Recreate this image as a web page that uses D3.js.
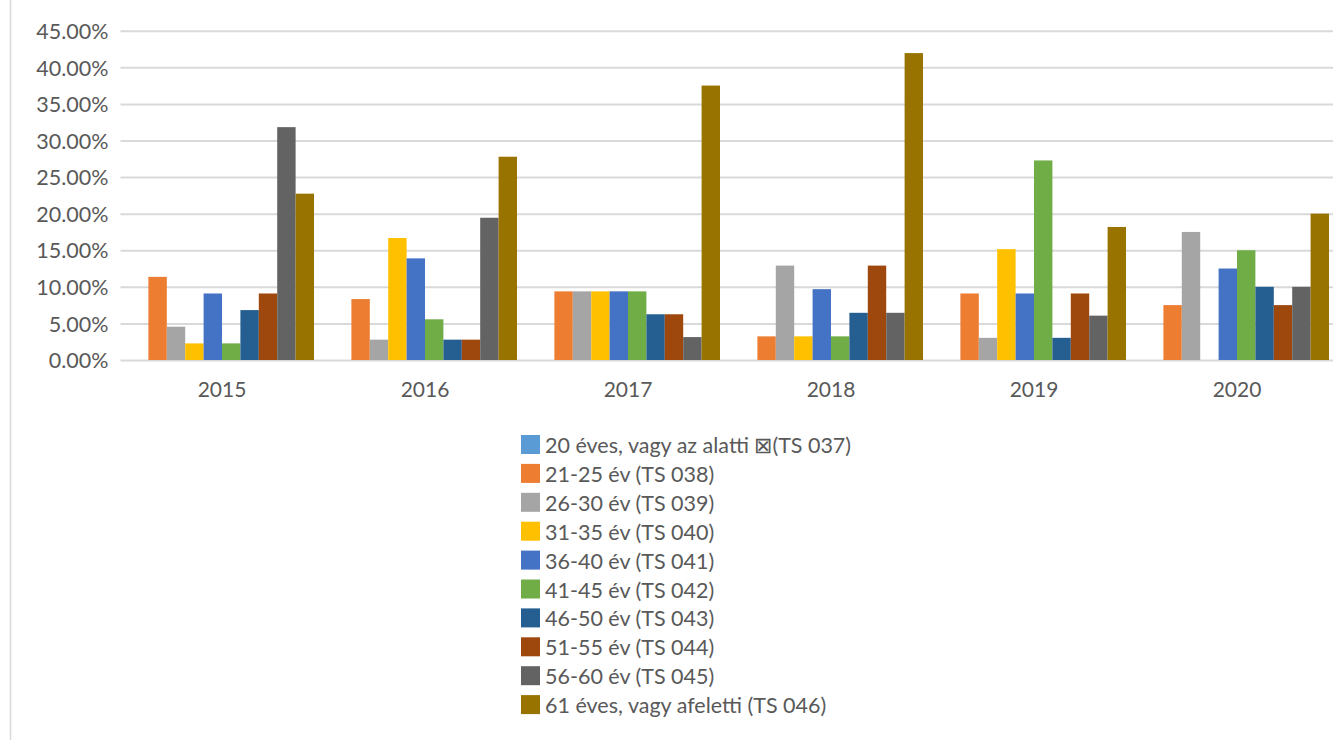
<!DOCTYPE html>
<html>
<head>
<meta charset="utf-8">
<script src="https://cdn.jsdelivr.net/npm/d3@7"></script>
<style>
  html, body { margin: 0; padding: 0; background: #fff; }
  svg { display: block; }
  text { font-family: Lato, "Open Sans", sans-serif; fill: #595959; }
</style>
</head>
<body>
<svg id="chart" width="1333" height="740"></svg>
<script>
// ---- data ----
const years = ["2015", "2016", "2017", "2018", "2019", "2020"];
const seriesNames = [
  "20 éves, vagy az alatti \u22A0(TS 037)",
  "21-25 év (TS 038)",
  "26-30 év (TS 039)",
  "31-35 év (TS 040)",
  "36-40 év (TS 041)",
  "41-45 év (TS 042)",
  "46-50 év (TS 043)",
  "51-55 év (TS 044)",
  "56-60 év (TS 045)",
  "61 éves, vagy afeletti (TS 046)"
];
const s20orLess = [0, 0, 0, 0, 0, 0];
const s21to25  = [11.36, 8.33, 9.38, 3.23, 9.09, 7.50];
const s26to30  = [4.55, 2.78, 9.38, 12.90, 3.03, 17.50];
const s31to35  = [2.27, 16.67, 9.38, 3.23, 15.15, 0];
const s36to40  = [9.09, 13.89, 9.38, 9.68, 9.09, 12.50];
const s41to45  = [2.27, 5.56, 9.38, 3.23, 27.27, 15.00];
const s46to50  = [6.82, 2.78, 6.25, 6.45, 3.03, 10.00];
const s51to55  = [9.09, 2.78, 6.25, 12.90, 9.09, 7.50];
const s56to60  = [31.82, 19.44, 3.13, 6.45, 6.06, 10.00];
const s61plus  = [22.73, 27.78, 37.50, 41.94, 18.18, 20.00];
const yTicks = [0, 5, 10, 15, 20, 25, 30, 35, 40, 45];
const colors = ["#5B9BD5", "#ED7D31", "#A5A5A5", "#FFC000", "#4472C4",
                "#70AD47", "#255E91", "#9E480E", "#636363", "#997300"];

const seriesValues = [s20orLess, s21to25, s26to30, s31to35, s36to40,
                      s41to45, s46to50, s51to55, s56to60, s61plus];

// ---- layout ----
const svg = d3.select("#chart");
const plotLeft = 120.5, plotRight = 1338.5, plotTop = 30.7, plotBottom = 360;
const groupPad = 9.5;

const x0 = d3.scaleBand().domain(years).range([plotLeft, plotRight]).padding(0);
const x1 = d3.scaleBand().domain(d3.range(seriesNames.length))
  .range([groupPad, x0.bandwidth() - groupPad]).padding(0);
const y = d3.scaleLinear().domain([0, 45]).range([plotBottom, plotTop]);

// border line on the left
svg.append("line").attr("x1", 10.5).attr("x2", 10.5).attr("y1", 0).attr("y2", 740)
  .attr("stroke", "#d9d9d9").attr("stroke-width", 1.5);

// gridlines + y labels
const yAxis = d3.axisLeft(y).tickValues(yTicks)
  .tickSize(-(plotRight - plotLeft))
  .tickPadding(12)
  .tickFormat(d => d3.format(".2f")(d) + "%");
const gy = svg.append("g").attr("transform", `translate(${plotLeft},0)`).call(yAxis);
gy.select(".domain").remove();
gy.selectAll(".tick line").attr("stroke", "#d9d9d9").attr("stroke-width", 2);
gy.selectAll(".tick text").attr("font-size", 21.5).attr("fill", "#595959")
  .attr("x", -12).attr("dy", "0.36em");

// bars
const groups = svg.append("g").selectAll("g").data(years).join("g")
  .attr("transform", d => `translate(${x0(d)},0)`);
groups.selectAll("rect")
  .data((yr, i) => seriesValues.map((vals, s) => ({ s, v: vals[i] })))
  .join("rect")
  .attr("x", d => x1(d.s))
  .attr("width", x1.bandwidth())
  .attr("y", d => y(d.v))
  .attr("height", d => y(0) - y(d.v))
  .attr("fill", d => colors[d.s]);

// x axis labels
const xAxis = d3.axisBottom(x0).tickSize(0).tickPadding(22);
const gx = svg.append("g").attr("transform", `translate(0,${plotBottom})`).call(xAxis);
gx.select(".domain").remove();
gx.selectAll(".tick text").attr("font-size", 21).attr("fill", "#595959");

// legend
const legend = svg.append("g").attr("transform", "translate(521,435)");
const li = legend.selectAll("g").data(seriesNames).join("g")
  .attr("transform", (d, i) => `translate(0,${i * 28.9})`);
li.append("rect").attr("width", 19).attr("height", 19)
  .attr("fill", (d, i) => colors[i]);
li.append("text").attr("x", 24).attr("y", 18)
  .attr("font-size", 21.5).attr("fill", "#595959").text(d => d);
</script>
</body>
</html>
